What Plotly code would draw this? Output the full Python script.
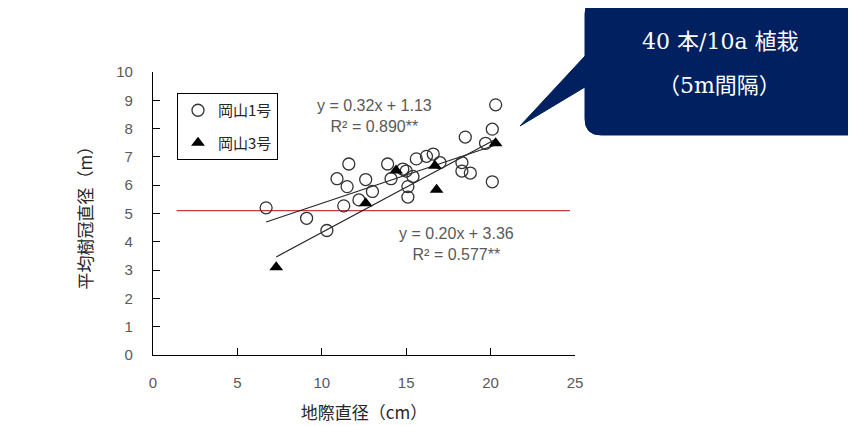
import plotly.graph_objects as go

# ---- data ----
okayama1_x = [6.7, 9.1, 10.3, 10.9, 11.6, 11.5, 11.3, 12.6, 12.2, 13.0, 13.9, 14.1, 14.8, 15.0,
              15.1, 15.1, 15.4, 15.6, 16.2, 16.6, 17.0, 18.5, 18.3, 18.3, 18.8, 19.7, 20.1, 20.3, 20.1]
okayama1_y = [5.2, 4.83, 4.4, 6.23, 6.75, 5.95, 5.27, 6.2, 5.48, 5.78, 6.75, 6.23, 6.57, 6.5,
              5.95, 5.58, 6.31, 6.93, 7.02, 7.1, 6.8, 7.7, 6.8, 6.5, 6.43, 7.48, 7.98, 8.84, 6.12]
okayama3_x = [7.3, 12.6, 14.4, 16.7, 16.8, 20.3]
okayama3_y = [3.1, 5.36, 6.52, 6.69, 5.84, 7.48]

fit1 = {"slope": 0.20, "intercept": 3.36, "x_range": [6.7, 20.3]}
fit3 = {"slope": 0.32, "intercept": 1.13, "x_range": [7.3, 20.3]}
ref_line_y = 5.1
ref_line_x = [1.4, 24.7]

eq_top = "y = 0.32x + 1.13<br>R² = 0.890**"
eq_bottom = "y = 0.20x + 3.36<br>R² = 0.577**"
callout_lines = ["40 本/10a 植栽", "（5m間隔）"]

x_ticks = [0, 5, 10, 15, 20, 25]
y_ticks = list(range(0, 11))

# ---- layout geometry (pixels, in window coordinates; page body has 8px margin) ----
OFF = 8
W, H = 856 - OFF, 426 - OFF
L, R, T, B = 153, 575, 72, 355


def px_x(x):
    return (x - L) / (R - L)


def px_y(y):
    return (B - y) / (B - T)


CJK = "Noto Sans CJK JP, Liberation Sans, sans-serif"
NUM = "Liberation Sans, Arial, sans-serif"
GREY = "#595959"

fig = go.Figure()

# reference line
fig.add_trace(go.Scatter(x=ref_line_x, y=[ref_line_y, ref_line_y], mode="lines",
                         line=dict(color="#CC3B3B", width=1.4), showlegend=False, hoverinfo="skip"))

# trend lines
for fit in (fit1, fit3):
    xs = fit["x_range"]
    ys = [fit["slope"] * v + fit["intercept"] for v in xs]
    fig.add_trace(go.Scatter(x=xs, y=ys, mode="lines",
                             line=dict(color="#262626", width=1.2), showlegend=False, hoverinfo="skip"))

fig.add_trace(go.Scatter(x=okayama1_x, y=okayama1_y, mode="markers", name="岡山1号",
                         legendgroup="a",
                         marker=dict(symbol="circle-open", size=12, color="#333333",
                                     line=dict(width=1.3, color="#333333"))))
fig.add_trace(go.Scatter(x=okayama3_x, y=okayama3_y, mode="markers", name="岡山3号",
                         legendgroup="b",
                         marker=dict(symbol="triangle-up", size=12, color="#000000")))

# equations
fig.add_annotation(x=13.15, y=8.44, text=eq_top, showarrow=False,
                   font=dict(family=NUM, size=16, color=GREY), align="center",
                   xanchor="center", yanchor="middle")
fig.add_annotation(x=18.0, y=3.92, text=eq_bottom, showarrow=False,
                   font=dict(family=NUM, size=16, color=GREY), align="center",
                   xanchor="center", yanchor="middle")

# outer chart border
fig.add_shape(type="rect", xref="paper", yref="paper",
              x0=px_x(7), x1=px_x(852), y0=px_y(440), y1=px_y(6),
              line=dict(color="#D9D9D9", width=1), fillcolor="rgba(0,0,0,0)", layer="below")

# callout shape
r = 16


def P(x, y):
    return f"{px_x(x):.5f},{px_y(y):.5f}"


path = (f"M {P(585 + r, -2)} L {P(870, -2)} L {P(870, 135)} L {P(585 + r, 135)} "
        f"Q {P(585, 135)} {P(585, 135 - r)} L {P(585, 87)} L {P(520, 126)} L {P(585, 56)} "
        f"L {P(585, r - 2)} Q {P(585, -2)} {P(585 + r, -2)} Z")
fig.add_shape(type="path", xref="paper", yref="paper", path=path,
              fillcolor="#002060", line=dict(color="#002060", width=1))

SERIF = "DejaVu Serif, Liberation Serif, Noto Sans CJK JP, serif"
fig.add_annotation(xref="paper", yref="paper", x=px_x(720), y=px_y(42), text=callout_lines[0],
                   showarrow=False, xanchor="center", yanchor="middle",
                   font=dict(family=SERIF, size=22, color="white"))
fig.add_annotation(xref="paper", yref="paper", x=px_x(719), y=px_y(85), text=callout_lines[1],
                   showarrow=False, xanchor="center", yanchor="middle",
                   font=dict(family=SERIF, size=22, color="white"))

fig.update_layout(
    width=W, height=H,
    margin=dict(l=L - OFF, r=W - (R - OFF), t=T - OFF, b=H - (B - OFF), pad=0),
    paper_bgcolor="white", plot_bgcolor="white",
    showlegend=True,
    legend=dict(x=px_x(177), y=px_y(93), xanchor="left", yanchor="top",
                bordercolor="#000000", borderwidth=1, bgcolor="white",
                font=dict(family=CJK, size=15, color="#262626"),
                tracegroupgap=10, itemwidth=30),
    xaxis=dict(range=[0, 25], tickvals=x_ticks, showgrid=False, zeroline=False,
               automargin=False,
               showline=True, linecolor="#000000", linewidth=1.3,
               ticks="inside", ticklen=7, tickcolor="#000000", tickwidth=1.3,
               ticklabelstandoff=14,
               tickfont=dict(family=NUM, size=15, color=GREY),
               title=dict(text="地際直径（cm）", font=dict(family=CJK, size=17, color="#262626"),
                          standoff=16)),
    yaxis=dict(range=[0, 10], tickvals=y_ticks, showgrid=False, zeroline=False,
               automargin=False,
               showline=True, linecolor="#000000", linewidth=1.3,
               ticks="inside", ticklen=7, tickcolor="#000000", tickwidth=1.3,
               ticklabelstandoff=16,
               tickfont=dict(family=NUM, size=15, color=GREY),
               title=dict(text="平均樹冠直径（m）", font=dict(family=CJK, size=17, color="#262626"),
                          standoff=19)),
)

fig.write_html("out.html")
